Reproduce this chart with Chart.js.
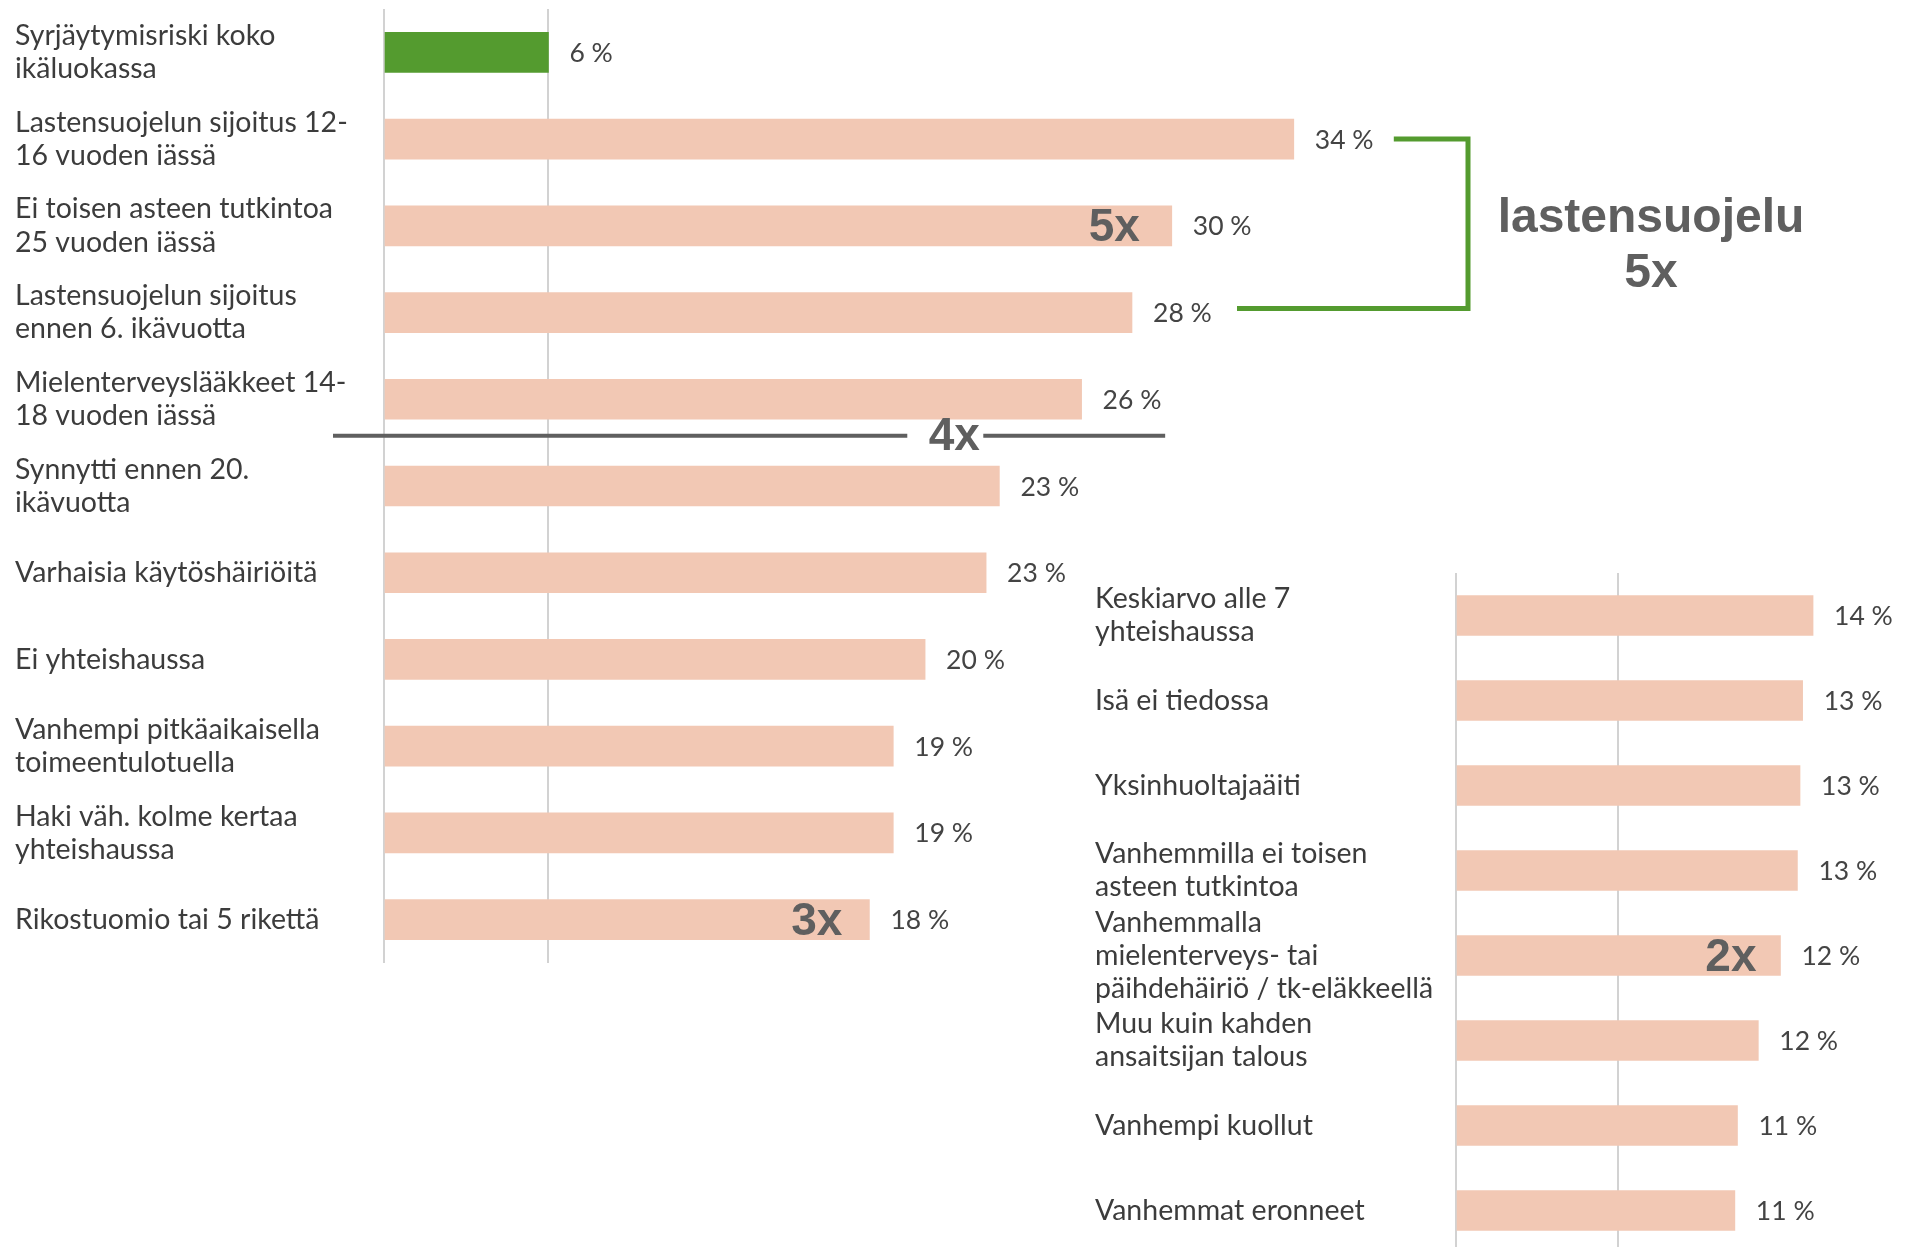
<!DOCTYPE html>
<html>
<head>
<meta charset="utf-8">
<script src="https://cdn.jsdelivr.net/npm/chart.js@4.4.1/dist/chart.umd.min.js"></script>
<style>
  html, body { margin: 0; padding: 0; background: #fff; overflow: hidden; }
  body { width: 1912px; height: 1247px; position: relative; }
  #leftBox { position: absolute; left: 0; top: 0; width: 1912px; height: 970px; }
  #rightBox { position: absolute; left: 1080px; top: 560px; width: 832px; height: 693px; }
</style>
</head>
<body>
<div id="leftBox"><canvas id="leftChart"></canvas></div>
<div id="rightBox"><canvas id="rightChart"></canvas></div>
<script>
// ---- data ----
const leftLabels = [
  ['Syrjäytymisriski koko', 'ikäluokassa'],
  ['Lastensuojelun sijoitus 12-', '16 vuoden iässä'],
  ['Ei toisen asteen tutkintoa', '25 vuoden iässä'],
  ['Lastensuojelun sijoitus', 'ennen 6. ikävuotta'],
  ['Mielenterveyslääkkeet 14-', '18 vuoden iässä'],
  ['Synnytti ennen 20.', 'ikävuotta'],
  'Varhaisia käytöshäiriöitä',
  'Ei yhteishaussa',
  ['Vanhempi pitkäaikaisella', 'toimeentulotuella'],
  ['Haki väh. kolme kertaa', 'yhteishaussa'],
  'Rikostuomio tai 5 rikettä'
];
const leftValues = [6.2, 34.3, 29.7, 28.2, 26.3, 23.2, 22.7, 20.4, 19.2, 19.2, 18.3];

const rightLabels = [
  ['Keskiarvo alle 7', 'yhteishaussa'],
  'Isä ei tiedossa',
  'Yksinhuoltajaäiti',
  ['Vanhemmilla ei toisen', 'asteen tutkintoa'],
  ['Vanhemmalla', 'mielenterveys- tai', 'päihdehäiriö / tk-eläkkeellä'],
  ['Muu kuin kahden', 'ansaitsijan talous'],
  'Vanhempi kuollut',
  'Vanhemmat eronneet'
];
const rightValues = [13.7, 13.3, 13.2, 13.1, 12.45, 11.6, 10.8, 10.7];

// reference line = risk in the whole age group
const avgRisk = 6.2;

const peach = '#F2C8B4';
const green = '#549B2F';
const noteGray = '#5f5f5f';
const noteFont = 'bold 46px "Liberation Sans", Arial, sans-serif';

Chart.defaults.font.family = 'Lato, "Open Sans", sans-serif';
Chart.defaults.animation = false;

// "NN %" after every bar
const valueLabels = {
  id: 'valueLabels',
  afterDatasetsDraw(chart) {
    const ctx = chart.ctx;
    const vals = chart.data.datasets[0].data;
    ctx.save();
    ctx.font = '26.5px Lato, sans-serif';
    ctx.fillStyle = '#444';
    ctx.textAlign = 'left';
    ctx.textBaseline = 'middle';
    chart.getDatasetMeta(0).data.forEach((bar, i) => {
      ctx.fillText(Math.round(vals[i]) + ' %', bar.x + 21, bar.y + 1);
    });
    ctx.restore();
  }
};

const leftNotes = {
  id: 'leftNotes',
  afterDatasetsDraw(chart) {
    const ctx = chart.ctx;
    const xs = chart.scales.x;
    const area = chart.chartArea;
    const bars = chart.getDatasetMeta(0).data;
    ctx.save();
    ctx.font = noteFont;
    ctx.fillStyle = noteGray;
    ctx.textBaseline = 'alphabetic';

    // multipliers inside bars
    ctx.textAlign = 'right';
    ctx.fillText('5x', bars[2].x - 32, bars[2].y + 15);
    ctx.fillText('3x', bars[10].x - 27, bars[10].y + 15);

    // 4x divider
    const yDiv = (bars[4].y + bars[5].y) / 2 - 7;
    const cx = xs.getPixelForValue(21.5);
    ctx.strokeStyle = noteGray;
    ctx.lineWidth = 4;
    ctx.beginPath();
    ctx.moveTo(area.left - 51, yDiv);
    ctx.lineTo(cx - 47, yDiv);
    ctx.moveTo(cx + 29, yDiv);
    ctx.lineTo(xs.getPixelForValue(29.45), yDiv);
    ctx.stroke();
    ctx.textAlign = 'center';
    ctx.textBaseline = 'middle';
    ctx.fillText('4x', cx, yDiv + 2);

    // green bracket for the child welfare rows
    const bx = area.right + 23;
    const y1 = bars[1].y;
    const y2 = bars[3].y - 4;
    ctx.strokeStyle = green;
    ctx.lineWidth = 5;
    ctx.lineJoin = 'miter';
    ctx.beginPath();
    ctx.moveTo(bars[1].x + 100, y1);
    ctx.lineTo(bx, y1);
    ctx.lineTo(bx, y2);
    ctx.lineTo(bars[3].x + 105, y2);
    ctx.stroke();

    const mid = (y1 + y2) / 2;
    ctx.textBaseline = 'alphabetic';
    ctx.font = 'bold 48px "Liberation Sans", Arial, sans-serif';
    ctx.fillText('lastensuojelu', bx + 183, mid + 8);
    ctx.fillText('5x', bx + 183, mid + 63);
    ctx.restore();
  }
};

const rightNotes = {
  id: 'rightNotes',
  afterDatasetsDraw(chart) {
    const ctx = chart.ctx;
    const bars = chart.getDatasetMeta(0).data;
    ctx.save();
    ctx.font = noteFont;
    ctx.fillStyle = noteGray;
    ctx.textAlign = 'right';
    ctx.textBaseline = 'alphabetic';
    ctx.fillText('2x', bars[4].x - 24, bars[4].y + 15);
    ctx.restore();
  }
};

function barOptions(xMax, labelWidth, padding) {
  return {
    indexAxis: 'y',
    responsive: true,
    maintainAspectRatio: false,
    layout: { padding: padding },
    plugins: { legend: { display: false }, tooltip: { enabled: false } },
    scales: {
      x: {
        type: 'linear',
        min: 0,
        max: xMax,
        afterBuildTicks: (axis) => { axis.ticks = [{ value: 0 }, { value: avgRisk }]; },
        afterFit: (axis) => {
          axis.height = 0;
          axis.paddingLeft = 0;
          axis.paddingRight = 0;
        },
        ticks: { display: false },
        grid: { color: '#d2d2d2', lineWidth: 2, drawTicks: false },
        border: { display: false }
      },
      y: {
        afterFit: (axis) => {
          axis.width = labelWidth;
          axis.paddingTop = 0;
          axis.paddingBottom = 0;
        },
        grid: { display: false },
        border: { display: false },
        ticks: {
          autoSkip: false,
          crossAlign: 'far',
          color: '#3c3c3c',
          font: { size: 28.5, lineHeight: 1.16 }
        }
      }
    }
  };
}

new Chart(document.getElementById('leftChart'), {
  type: 'bar',
  data: {
    labels: leftLabels,
    datasets: [{
      data: leftValues,
      backgroundColor: leftValues.map((v, i) => i === 0 ? green : peach),
      barThickness: 40
    }]
  },
  options: barOptions(40, 369, { left: 15, top: 9, right: 467, bottom: 7 }),
  plugins: [valueLabels, leftNotes]
});

new Chart(document.getElementById('rightChart'), {
  type: 'bar',
  data: {
    labels: rightLabels,
    datasets: [{
      data: rightValues,
      backgroundColor: peach,
      barThickness: 40
    }]
  },
  options: barOptions(16, 361, { left: 15, top: 13, right: 39, bottom: 0 }),
  plugins: [valueLabels, rightNotes]
});
</script>
</body>
</html>
